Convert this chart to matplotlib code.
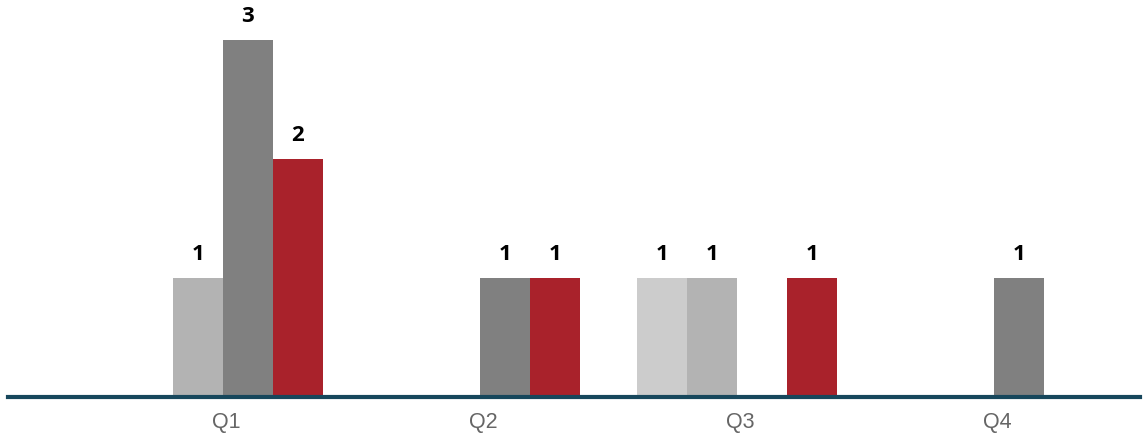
import numpy as np
import matplotlib.pyplot as plt
from matplotlib.transforms import ScaledTranslation

categories = ["Q1", "Q2", "Q3", "Q4"]
serie_1 = [0, 0, 1, 0]
serie_2 = [1, 0, 1, 0]
serie_3 = [3, 1, 0, 1]
serie_4 = [2, 1, 1, 0]
series = [serie_1, serie_2, serie_3, serie_4]
couleurs = ["#cccccc", "#b3b3b3", "#808080", "#a9222b"]

fig = plt.figure(figsize=(11.44, 4.33), dpi=100)
ax = fig.add_axes([8/1144, 36/433, 1132/1144, 397/433])

x = np.arange(len(categories))
w = 50/257
for i, s in enumerate(series):
    pos = x + (i - 1.5)*w
    barres = ax.bar(pos, s, width=w, color=couleurs[i], zorder=2)
    for b, v in zip(barres, s):
        if v != 0:
            ax.annotate(str(v), (b.get_x() + b.get_width()/2, v),
                        xytext=(0, 13), textcoords='offset points',
                        ha='center', va='baseline', fontsize=16,
                        fontweight='bold', family='Open Sans', color='black')

ax.set_xlim((8-223)/257, (1140-223)/257)
ax.set_ylim(0, 3.336)
ax.set_xticks(x)
ax.set_xticklabels(categories, family='Liberation Sans', fontsize=15.5, color='#666666')
ax.tick_params(axis='x', length=0, pad=10.5)
# les étiquettes sont un peu décalées à droite dans l'original
for lab in ax.get_xticklabels():
    lab.set_transform(lab.get_transform() + ScaledTranslation(3/100, 0, fig.dpi_scale_trans))
ax.set_yticks([])
for c in ['top', 'left', 'right']:
    ax.spines[c].set_visible(False)
ax.spines['bottom'].set_color('#17475c')
ax.spines['bottom'].set_linewidth(3)
ax.spines['bottom'].set_zorder(3)

fig.savefig("out.png", dpi=100)
